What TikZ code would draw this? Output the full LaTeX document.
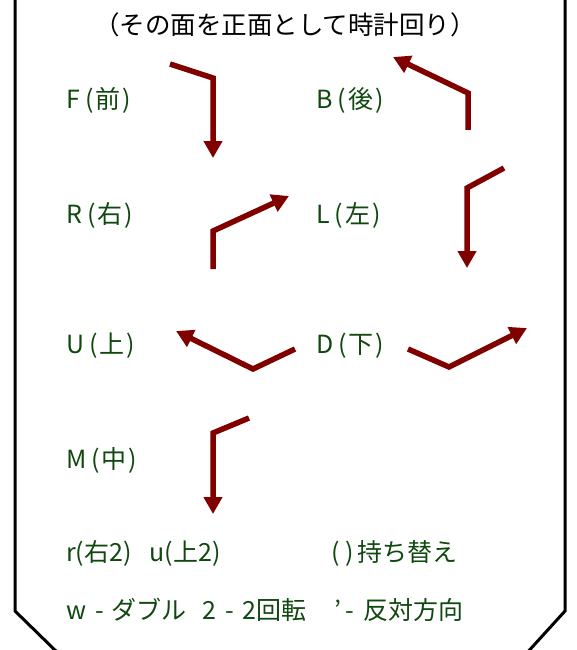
\documentclass[tikz,border=0pt]{standalone}
\usepackage{fontspec}
\setmainfont{Noto Sans CJK JP}
\usetikzlibrary{arrows.meta}
\definecolor{lblgreen}{RGB}{16,72,16}
\definecolor{arrred}{RGB}{128,0,0}
\newcommand\mydsh{\hspace{9pt}-\hspace{8pt}}
\newcommand\mylbl[2]{#1\hspace{5pt}(\hspace{2pt}#2\hspace{2pt})}
\tikzset{
  lbl/.style={anchor=west,inner sep=0pt,text=lblgreen,font=\fontsize{25}{28}\selectfont},
  title/.style={inner sep=0pt,text=black,font=\fontsize{25.5}{28}\selectfont},
  turn/.style={draw=arrred,line width=5.5pt,line join=miter,-{Triangle[width=18pt,length=17pt]}},
  frame/.style={draw=black,line width=3pt,line join=miter}
}
\begin{document}
\begin{tikzpicture}[x=1pt,y=-1pt]
\useasboundingbox (0,0) rectangle (577,650);
% frame
\coordinate (lt) at (15,-5);
\coordinate (lb) at (15,611);
\coordinate (lbe) at (60,655);
\coordinate (rt) at (565,-5);
\coordinate (rb) at (565,611);
\coordinate (rbe) at (525,655);
\draw[frame] (lt) -- (lb) -- (lbe);
\draw[frame] (rt) -- (rb) -- (rbe);
% title
\node[title] (ttl) at (285,25) {（その面を正面として時計回り）};
% labels
\node[lbl] (F) at (66,100) {\mylbl{F}{前}};
\node[lbl] (B) at (316,100) {\mylbl{B}{後}};
\node[lbl] (R) at (66,215) {\mylbl{R}{右}};
\node[lbl] (L) at (316,215) {\mylbl{L}{左}};
\node[lbl] (U) at (66,346) {\mylbl{U}{上}};
\node[lbl] (D) at (316,346) {\mylbl{D}{下}};
\node[lbl] (M) at (66,460) {\mylbl{M}{中}};
\node[lbl] (ru) at (66,553) {r(右2)\hspace{18pt}u(上2)};
\node[lbl] (mc) at (331,553) {( )\,持ち替え};
\node[lbl] (ww) at (66,610) {w\mydsh ダブル\hspace{16pt}2\mydsh 2回転\hspace{28pt}'\hspace{4pt}-\hspace{10pt}反対方向};
% arrows
\coordinate (f1) at (170,64); \coordinate (f2) at (213,78); \coordinate (f3) at (213,158);
\draw[turn] (f1) -- (f2) -- (f3);
\coordinate (r1) at (213,269); \coordinate (r2) at (213,231); \coordinate (r3) at (289,196);
\draw[turn] (r1) -- (r2) -- (r3);
\coordinate (b1) at (468,130); \coordinate (b2) at (468,93); \coordinate (b3) at (393,57);
\draw[turn] (b1) -- (b2) -- (b3);
\coordinate (l1) at (504,168); \coordinate (l2) at (467,188); \coordinate (l3) at (467,268);
\draw[turn] (l1) -- (l2) -- (l3);
\coordinate (u1) at (295,349); \coordinate (u2) at (253,369); \coordinate (u3) at (176,331);
\draw[turn] (u1) -- (u2) -- (u3);
\coordinate (d1) at (408,349); \coordinate (d2) at (449,367); \coordinate (d3) at (527,328);
\draw[turn] (d1) -- (d2) -- (d3);
\coordinate (m1) at (249,418); \coordinate (m2) at (213,433); \coordinate (m3) at (213,514);
\draw[turn] (m1) -- (m2) -- (m3);
\end{tikzpicture}
\end{document}
